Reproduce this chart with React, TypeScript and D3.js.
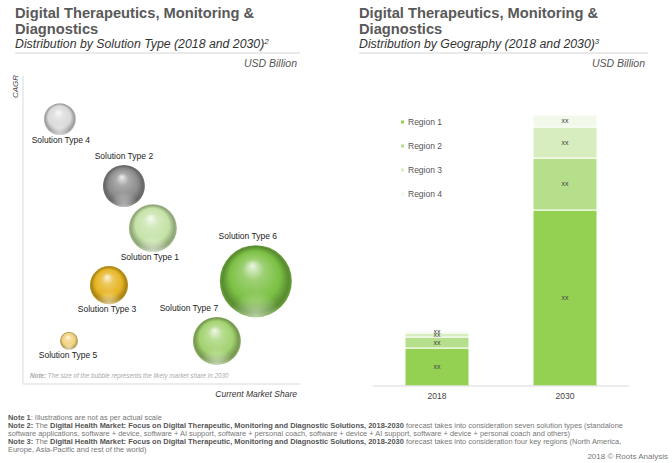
import * as d3 from 'd3'

// ---- bubble chart data (left panel) ----
const SOLUTION_TYPES = [
  'Solution Type 1',
  'Solution Type 2',
  'Solution Type 3',
  'Solution Type 4',
  'Solution Type 5',
  'Solution Type 6',
  'Solution Type 7',
]
// current market share (x), CAGR (y), likely market share in 2030 (bubble size)
const CURRENT_SHARE = [46.7, 36.2, 30.8, 13, 16.3, 84, 69.9]
const CAGR = [50.6, 64.3, 32.1, 86, 14, 33.4, 14]
const SHARE_2030 = [13.3, 10.2, 8.4, 5.9, 1.9, 30, 13.3]

// ---- stacked bar data (right panel) ----
const YEARS = ['2018', '2030']
const REGIONS = ['Region 1', 'Region 2', 'Region 3', 'Region 4']
const REGION_1 = [3.8, 17.6]
const REGION_2 = [1.1, 5.2]
const REGION_3 = [0.4, 3.1]
const REGION_4 = [0.2, 1.2]

// ---- layout / styles ----
const W = 672
const H = 463
const FONT = 'Helvetica, Arial, "Liberation Sans", sans-serif'
const TITLE_COLOR = '#595959'
const BUBBLE_COLORS = ['#c4e2a6', '#8c8c8c', '#e6b422', '#d9d9d9', '#f1d27c', '#7bc043', '#a2d26f']
// label placement per bubble: above / below and a horizontal nudge
const LABEL_PLACE: { side: 'above' | 'below'; dx: number }[] = [
  { side: 'below', dx: -3 },
  { side: 'above', dx: 0 },
  { side: 'below', dx: -2 },
  { side: 'below', dx: 1 },
  { side: 'below', dx: -1 },
  { side: 'above', dx: -8 },
  { side: 'above', dx: -28 },
]
const REGION_COLORS = ['#94d153', '#b5df8b', '#d7edc0', '#f2f8ea']

const PLOT = { left: 23, right: 300, top: 76, bottom: 384 }

function Bubbles() {
  const x = d3.scaleLinear().domain([0, 100]).range([PLOT.left + 1, PLOT.right])
  const y = d3.scaleLinear().domain([0, 100]).range([PLOT.bottom, PLOT.top])
  const r = d3.scaleSqrt().domain([0, 30]).range([0, 36])

  return (
    <g>
      <defs>
        {BUBBLE_COLORS.map((c, i) => {
          const base = d3.color(c)!
          return (
            <radialGradient key={i} id={`ball${i}`} cx="50%" cy="50%" r="50%" fx="45%" fy="28%">
              <stop offset="0%" stopColor={d3.interpolateRgb(c, '#ffffff')(0.85)} />
              <stop offset="30%" stopColor={d3.interpolateRgb(c, '#ffffff')(0.25)} />
              <stop offset="70%" stopColor={c} />
              <stop offset="92%" stopColor={base.darker(0.9).formatHex()} />
              <stop offset="100%" stopColor={base.darker(0.5).formatHex()} />
            </radialGradient>
          )
        })}
        <radialGradient id="rim" cx="50%" cy="100%" r="60%" fx="50%" fy="100%">
          <stop offset="0%" stopColor="#fff" stopOpacity={0.55} />
          <stop offset="60%" stopColor="#fff" stopOpacity={0} />
        </radialGradient>
      </defs>

      {/* axes */}
      <line x1={PLOT.left} x2={PLOT.left} y1={PLOT.top} y2={PLOT.bottom} stroke="#d9d9d9" strokeWidth={1} />
      <line x1={PLOT.left} x2={PLOT.right} y1={PLOT.bottom} y2={PLOT.bottom} stroke="#d9d9d9" strokeWidth={1} />
      <text
        transform={`translate(18,98) rotate(-90)`}
        fontSize={8}
        fontStyle="italic"
        fill="#444"
        fontFamily={FONT}
      >
        CAGR
      </text>

      {SOLUTION_TYPES.map((name, i) => {
        const cx = x(CURRENT_SHARE[i])
        const cy = y(CAGR[i])
        const rr = r(SHARE_2030[i])
        const place = LABEL_PLACE[i]
        const ly = place.side === 'below' ? cy + rr + 8 : cy - rr - 6
        return (
          <g key={name}>
            <circle cx={cx} cy={cy} r={rr} fill={`url(#ball${i})`} />
            <circle cx={cx} cy={cy} r={rr} fill="url(#rim)" />
            <text x={cx + place.dx} y={ly} textAnchor="middle" fontSize={8.5} fill="#222" fontFamily={FONT}>
              {name}
            </text>
          </g>
        )
      })}

      <text x={30} y={378} fontSize={6.3} fontStyle="italic" fill="#aaa" fontFamily={FONT}>
        <tspan fontWeight="bold">Note:</tspan> The size of the bubble represents the likely market share in 2030
      </text>
      <text x={297} y={397} textAnchor="end" fontSize={8.5} fontStyle="italic" fill="#333" fontFamily={FONT}>
        Current Market Share
      </text>
    </g>
  )
}

function StackedBars() {
  const rows = YEARS.map((yr, i) => ({
    year: yr,
    'Region 1': REGION_1[i],
    'Region 2': REGION_2[i],
    'Region 3': REGION_3[i],
    'Region 4': REGION_4[i],
  }))
  const series = d3.stack<any>().keys(REGIONS)(rows)
  const x = d3.scaleBand().domain(YEARS).range([373, 629]).paddingInner(0.5).paddingOuter(0.25)
  const y = d3.scaleLinear().domain([0, 30]).range([386, 86])

  return (
    <g fontFamily={FONT}>
      {series.map((s, si) => (
        <g key={s.key}>
          {s.map((d, di) => {
            const top = y(d[1])
            const bottom = y(d[0])
            return (
              <g key={di}>
                <rect
                  x={x(YEARS[di])!}
                  y={top}
                  width={x.bandwidth()}
                  height={bottom - top}
                  fill={REGION_COLORS[si]}
                  stroke="#fff"
                  strokeWidth={1}
                />
                <text
                  x={x(YEARS[di])! + x.bandwidth() / 2}
                  y={(top + bottom) / 2}
                  dy="0.35em"
                  textAnchor="middle"
                  fontSize={7}
                  fill="#444"
                >
                  xx
                </text>
              </g>
            )
          })}
        </g>
      ))}
      <line x1={373} x2={629} y1={386} y2={386} stroke="#d9d9d9" strokeWidth={1} />
      {YEARS.map((yr) => (
        <text key={yr} x={x(yr)! + x.bandwidth() / 2} y={399} textAnchor="middle" fontSize={8.5} fill="#444">
          {yr}
        </text>
      ))}
      {REGIONS.map((reg, i) => (
        <g key={reg} transform={`translate(401,${122 + i * 24})`}>
          <rect x={0} y={-1.5} width={3} height={3} fill={REGION_COLORS[i]} />
          <text x={7} y={0} dy="0.35em" fontSize={8.5} fill="#555">
            {reg}
          </text>
        </g>
      ))}
    </g>
  )
}

function Header({ x0, x1, subtitle, sup }: { x0: number; x1: number; subtitle: string; sup: string }) {
  return (
    <g fontFamily={FONT}>
      <text x={x0} y={18} fontSize={14.7} fontWeight="bold" fill={TITLE_COLOR}>
        Digital Therapeutics, Monitoring &amp;
      </text>
      <text x={x0} y={34} fontSize={14.7} fontWeight="bold" fill={TITLE_COLOR}>
        Diagnostics
      </text>
      <text x={x0} y={48} fontSize={12.3} fontStyle="italic" fill="#333">
        {subtitle}
        <tspan fontSize={8} dy={-4.5}>
          {sup}
        </tspan>
      </text>
      <line x1={x0} x2={x1} y1={53} y2={53} stroke="#e3e3e3" strokeWidth={1.5} />
      <text x={x1 - 3} y={67} textAnchor="end" fontSize={10.5} fontStyle="italic" fill="#555">
        USD Billion
      </text>
    </g>
  )
}

function Footer() {
  const fs = 7.45
  return (
    <g fontFamily={FONT} fontSize={fs} fill="#777">
      <text x={8} y={420}>
        <tspan fontWeight="bold" fill="#555">Note 1</tspan>: Illustrations are not as per actual scale
      </text>
      <text x={8} y={428}>
        <tspan fontWeight="bold" fill="#555">Note 2:</tspan> The{' '}
        <tspan fontWeight="bold" fill="#555">
          Digital Health Market: Focus on Digital Therapeutic, Monitoring and Diagnostic Solutions, 2018-2030
        </tspan>{' '}
        forecast takes into consideration seven solution types (standalone
      </text>
      <text x={8} y={436}>
        software applications, software + device, software + AI support, software + personal coach, software + device +
        AI support, software + device + personal coach and others)
      </text>
      <text x={8} y={444}>
        <tspan fontWeight="bold" fill="#555">Note 3:</tspan> The{' '}
        <tspan fontWeight="bold" fill="#555">
          Digital Health Market: Focus on Digital Therapeutic, Monitoring and Diagnostic Solutions, 2018-2030
        </tspan>{' '}
        forecast takes into consideration four key regions (North America,
      </text>
      <text x={8} y={452}>
        Europe, Asia-Pacific and rest of the world)
      </text>
      <text x={668} y={459} textAnchor="end" fontSize={8}>
        2018 © Roots Analysis
      </text>
    </g>
  )
}

export default function App() {
  return (
    <svg
      width={W}
      height={H}
      viewBox={`0 0 ${W} ${H}`}
      style={{ position: 'absolute', left: 0, top: 0, background: '#fff', display: 'block' }}
    >
      <rect width={W} height={H} fill="#fff" />
      <Header x0={15} x1={300} subtitle="Distribution by Solution Type (2018 and 2030)" sup="2" />
      <Header x0={359} x1={648} subtitle="Distribution by Geography (2018 and 2030)" sup="3" />
      <Bubbles />
      <StackedBars />
      <Footer />
    </svg>
  )
}
